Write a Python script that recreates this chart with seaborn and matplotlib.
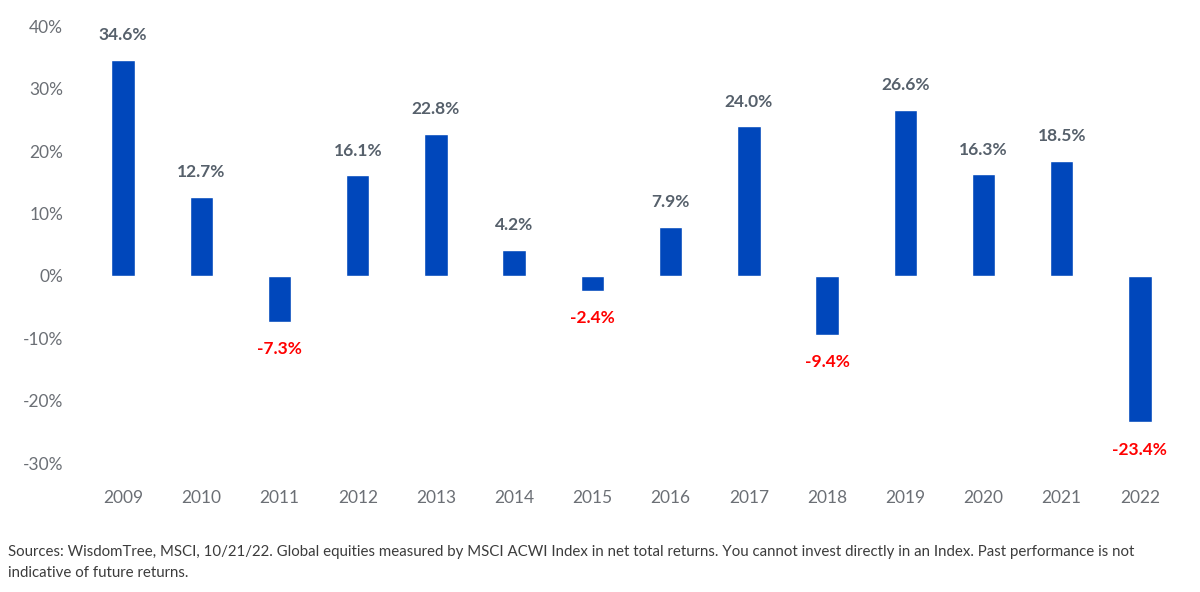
import matplotlib
matplotlib.use("Agg")
import matplotlib.pyplot as plt
import pandas as pd
import seaborn as sns

years = ["2009", "2010", "2011", "2012", "2013", "2014", "2015",
         "2016", "2017", "2018", "2019", "2020", "2021", "2022"]
returns = [34.6, 12.7, -7.3, 16.1, 22.8, 4.2, -2.4,
           7.9, 24.0, -9.4, 26.6, 16.3, 18.5, -23.4]
yticks = [-30, -20, -10, 0, 10, 20, 30, 40]

note = ("Sources: WisdomTree, MSCI, 10/21/22. Global equities measured by MSCI ACWI Index in net total "
        "returns. You cannot invest directly in an Index. Past performance is not\nindicative of future returns.")

sns.set_style("white")
plt.rcParams["font.family"] = ["Lato", "DejaVu Sans"]

df = pd.DataFrame({"year": years, "ret": returns})

fig = plt.figure(figsize=(12, 5.92), dpi=100)
ax = fig.add_axes([0.07, 0.189, 0.9125, 0.794])

sns.barplot(data=df, x="year", y="ret", color="#0047BB", saturation=1,
            width=0.3, ax=ax)

for i, v in enumerate(returns):
    if v >= 0:
        ax.annotate(f"{v:.1f}%", (i, v), xytext=(0, 12), textcoords="offset points",
                    ha="center", va="bottom", fontsize=12.5, fontweight="bold",
                    color="#56606b")
    else:
        ax.annotate(f"{v:.1f}%", (i, v), xytext=(0, -14), textcoords="offset points",
                    ha="center", va="top", fontsize=12.5, fontweight="bold",
                    color="#ff0000")

ax.set_ylim(-32.7, 42.6)
ax.set_xlim(-0.5, 13.5)
ax.set_yticks(yticks)
ax.set_yticklabels([f"{t}%" for t in yticks])
ax.tick_params(axis="y", length=0, pad=15, labelsize=12.5, labelcolor="#6b6f75")
ax.tick_params(axis="x", length=0, pad=7, labelsize=12.5, labelcolor="#6b6f75")
ax.set_xlabel("")
ax.set_ylabel("")
sns.despine(ax=ax, left=True, bottom=True)

fig.text(0.007, 0.079, note, fontsize=10.8, color="#3c3c3c", ha="left", va="top",
         linespacing=1.6)

fig.savefig("out.png", dpi=100)
